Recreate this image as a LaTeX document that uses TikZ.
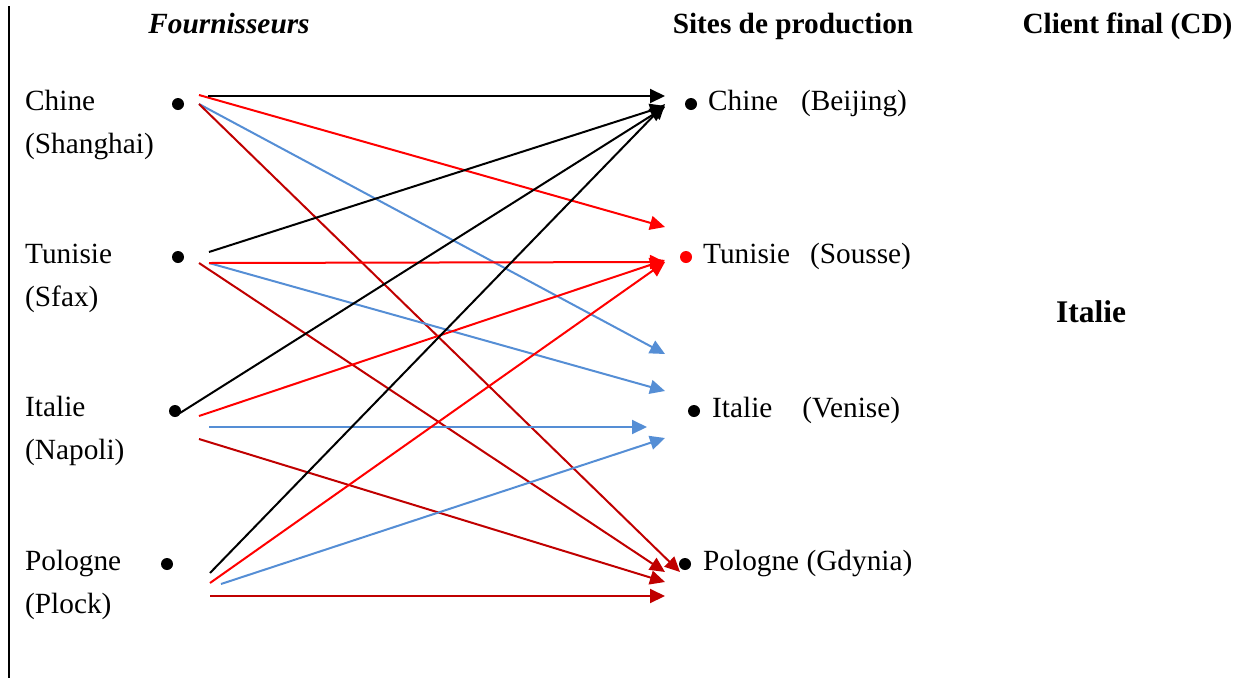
\documentclass[tikz,border=0pt]{standalone}
\usepackage{fontspec}
\setmainfont{Liberation Serif}
\usetikzlibrary{arrows.meta}
\definecolor{cred}{RGB}{255,0,0}
\definecolor{cblue}{RGB}{85,142,213}
\definecolor{cdred}{RGB}{192,0,0}
\begin{document}
\begin{tikzpicture}[x=1pt,y=-1pt,
  lbl/.style={anchor=base west,inner sep=0,font=\fontsize{29.3}{35}\selectfont},
  hdr/.style={anchor=base,inner sep=0,font=\fontsize{29.3}{35}\selectfont\bfseries},
  dot/.style={circle,fill=#1,draw=none,inner sep=0,minimum size=12pt},
  dot/.default=black,
  flow/.style={line width=2pt,draw=#1,-{Triangle[length=15pt,width=14pt,fill=#1]}},
  flow/.default=black]
\useasboundingbox (0,0) rectangle (1243,678);
\draw[line width=2.5pt] (9,6) -- (9,678);

% headers
\node[hdr,font=\fontsize{29.3}{35}\selectfont\bfseries\itshape] (hf) at (229,33) {Fournisseurs};
\node[hdr] (hs) at (793,33) {Sites de production};
\node[hdr] (hc) at (1127.5,33) {Client final (CD)};
\node[hdr,font=\fontsize{31.5}{38}\selectfont\bfseries] (hi) at (1091,322) {Italie};

% supplier labels
\node[lbl] (l1a) at (25,110) {Chine};
\node[lbl] (l1b) at (25,153) {(Shanghai)};
\node[lbl] (l2a) at (25,263) {Tunisie};
\node[lbl] (l2b) at (25,306) {(Sfax)};
\node[lbl] (l3a) at (25,416) {Italie};
\node[lbl] (l3b) at (25,459) {(Napoli)};
\node[lbl] (l4a) at (25,570) {Pologne};
\node[lbl] (l4b) at (25,613) {(Plock)};

% production site labels
\node[lbl] (r1) at (708,110) {Chine\hspace{23pt}(Beijing)};
\node[lbl] (r2) at (703,263) {Tunisie\hspace{20pt}(Sousse)};
\node[lbl] (r3) at (712,417) {Italie\hspace{30pt}(Venise)};
\node[lbl] (r4) at (703,570) {Pologne (Gdynia)};

% dots
\node[dot] (s1) at (178,104) {};
\node[dot] (s2) at (178,257) {};
\node[dot] (s3) at (175,411) {};
\node[dot] (s4) at (167,564) {};
\node[dot] (p1) at (691,104) {};
\node[dot=cred] (p2) at (686,257) {};
\node[dot] (p3) at (694,411) {};
\node[dot] (p4) at (685,564) {};

% start coordinates
\coordinate (a1k) at (208,96);
\coordinate (a1r) at (199,95);
\coordinate (a1b) at (199,104);
\coordinate (a1d) at (199,104);
\coordinate (a2k) at (209,252);
\coordinate (a2r) at (209,263);
\coordinate (a2b) at (209,263);
\coordinate (a2d) at (199,263);
\coordinate (a3k) at (180,413);
\coordinate (a3r) at (199,416);
\coordinate (a3b) at (209,427);
\coordinate (a3d) at (199,439);
\coordinate (a4k) at (210,573);
\coordinate (a4r) at (210,583);
\coordinate (a4b) at (221,584);
\coordinate (a4d) at (210,596);
% end coordinates
\coordinate (e1k) at (665,96);
\coordinate (e1r) at (665,227);
\coordinate (e1b) at (665,354);
\coordinate (e1d) at (680,572);
\coordinate (e2k) at (665,106);
\coordinate (e2r) at (665,262);
\coordinate (e2b) at (665,391);
\coordinate (e2d) at (665,572);
\coordinate (e3k) at (665,107);
\coordinate (e3r) at (665,260);
\coordinate (e3b) at (647,427);
\coordinate (e3d) at (665,582);
\coordinate (e4k) at (665,104);
\coordinate (e4r) at (665,262);
\coordinate (e4b) at (665,438);
\coordinate (e4d) at (665,596);

% flows
\foreach \i in {1,2,3,4}{
  \draw[flow=cblue] (a\i b) -- (e\i b);
  \draw[flow=cdred] (a\i d) -- (e\i d);
  \draw[flow=cred] (a\i r) -- (e\i r);
  \draw[flow=black] (a\i k) -- (e\i k);
}
\end{tikzpicture}
\end{document}
